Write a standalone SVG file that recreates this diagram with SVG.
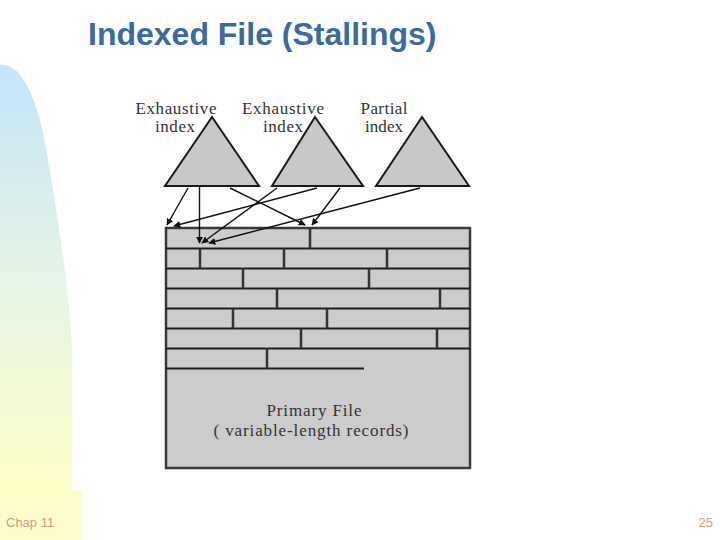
<svg xmlns="http://www.w3.org/2000/svg" width="720" height="540" viewBox="0 0 720 540">
  <defs>
    <linearGradient id="bg" x1="0" y1="0" x2="0" y2="1">
      <stop offset="0" stop-color="#c4e4fa"/>
      <stop offset="0.45" stop-color="#e2f3e8"/>
      <stop offset="1" stop-color="#fdfdc6"/>
    </linearGradient>
    <marker id="ah" viewBox="0 0 10 10" refX="9" refY="5" markerWidth="7" markerHeight="7" markerUnits="userSpaceOnUse" orient="auto">
      <path d="M0,0 L10,5 L0,10 Z" fill="#111"/>
    </marker>
    <style>
      .title{font-family:"Liberation Sans",Arial,sans-serif;font-size:32px;font-weight:bold;fill:#3a6b9c}
      .lbl{font-family:"Liberation Serif","Times New Roman",serif;font-size:17px;fill:#333;text-anchor:middle}
      .ftxt{font-family:"Liberation Serif","Times New Roman",serif;font-size:17px;fill:#333;text-anchor:middle}
      .foot{font-family:"Liberation Sans",Arial,sans-serif;font-size:13px;fill:#c9a27c}
      .tri{fill:#c8c8c8;stroke:#1a1a1a;stroke-width:2}
      .file{fill:#cccccc;stroke:#3a3a3a;stroke-width:2.5}
      .row{stroke:#1e1e1e;stroke-width:2;fill:none}
      .div{stroke:#333;stroke-width:2.5;fill:none}
      .arr{stroke:#111;stroke-width:1.4;fill:none;marker-end:url(#ah)}
    </style>
  </defs>

  <!-- background decoration -->
  <path d="M0,65 C20,62 38,95 48,160 C60,230 70,300 72,350 L72,490 L0,490 Z" fill="url(#bg)"/>
  <rect x="0" y="490" width="82" height="50" fill="#fdfdcc"/>

  <text class="title" x="88" y="45">Indexed File (Stallings)</text>

  <g id="index1">
    <polygon class="tri" points="212,117 165,186 259,186"/>
    <text class="lbl" x="176" y="114" textLength="81">Exhaustive</text>
    <text class="lbl" x="175" y="132" textLength="40">index</text>
  </g>
  <g id="index2">
    <polygon class="tri" points="315,117 272,186 363,186"/>
    <text class="lbl" x="283" y="114" textLength="82">Exhaustive</text>
    <text class="lbl" x="283" y="132" textLength="40">index</text>
  </g>
  <g id="index3">
    <polygon class="tri" points="422,117 376,186 469,186"/>
    <text class="lbl" x="384" y="114" textLength="47">Partial</text>
    <text class="lbl" x="384" y="132" textLength="38">index</text>
  </g>

  <g id="primary-file">
    <rect class="file" x="166" y="228" width="304" height="240"/>
    <path class="row" d="M166,248.5H470 M166,268.5H470 M166,288.5H470 M166,308.5H470 M166,328.5H470 M166,348.5H470 M166,368.5H364"/>
    <path class="div" d="M310,228V248.5 M200,248.5V268.5 M284,248.5V268.5 M387,248.5V268.5 M243,268.5V288.5 M369,268.5V288.5 M277,288.5V308.5 M440,288.5V308.5 M233,308.5V328.5 M327,308.5V328.5 M301,328.5V348.5 M437,328.5V348.5 M267,348.5V368.5"/>
    <text class="ftxt" x="314" y="416" textLength="95">Primary File</text>
    <text class="ftxt" x="311" y="436" textLength="195">( variable-length records)</text>
  </g>

  <g id="connectors">
    <line class="arr" x1="188" y1="188" x2="167" y2="225"/>
    <line class="arr" x1="199.5" y1="186" x2="199.5" y2="243"/>
    <line class="arr" x1="230" y1="188" x2="305" y2="225"/>
    <line class="arr" x1="317" y1="188" x2="174" y2="226"/>
    <line class="arr" x1="277" y1="188" x2="202" y2="243"/>
    <line class="arr" x1="340" y1="188" x2="312" y2="225"/>
    <line class="arr" x1="420" y1="188" x2="209" y2="243"/>
  </g>

  <text class="foot" x="6" y="527">Chap 11</text>
  <text class="foot" x="713" y="527" text-anchor="end">25</text>
</svg>
